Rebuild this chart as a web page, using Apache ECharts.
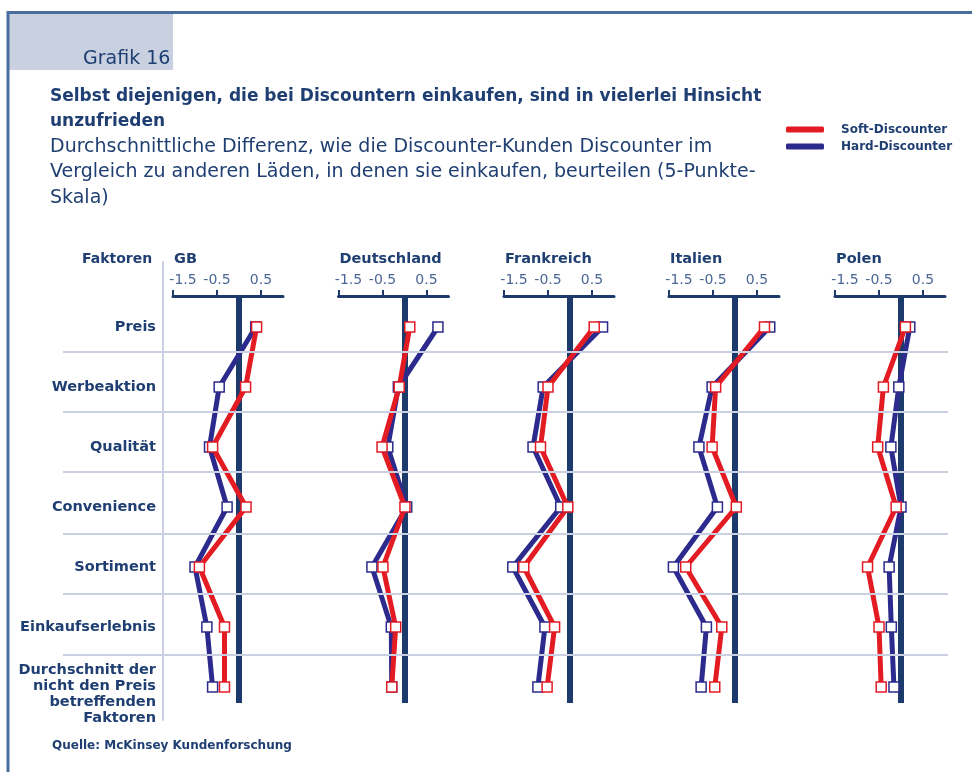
<!DOCTYPE html>
<html>
<head>
<meta charset="utf-8">
<script src="https://cdn.jsdelivr.net/npm/echarts@6/dist/echarts.min.js"></script>
<style>
  html, body { margin: 0; padding: 0; background: #ffffff; }
  #chart { width: 972px; height: 772px; }
</style>
</head>
<body>
<div id="chart"></div>
<script>
// Factors rated (rows, top to bottom)
var factors = ['Preis', 'Werbeaktion', 'Qualität', 'Convenience', 'Sortiment', 'Einkaufserlebnis',
  'Durchschnitt der\nnicht den Preis\nbetreffenden\nFaktoren'];
// Countries (panels, left to right)
var countries = ['GB', 'Deutschland', 'Frankreich', 'Italien', 'Polen'];
var seriesNames = ['Soft-Discounter', 'Hard-Discounter'];

// Average difference on a 5-point scale, one array per country and discounter type
var softGB = [0.4, 0.15, -0.6, 0.16, -0.9, -0.33, -0.33];
var hardGB = [0.38, -0.45, -0.67, -0.27, -1.0, -0.73, -0.6];
var softDE = [0.12, -0.12, -0.51, 0.01, -0.49, -0.2, -0.29];
var hardDE = [0.76, -0.14, -0.38, 0.05, -0.74, -0.3, -0.29];
var softFR = [0.55, -0.5, -0.67, -0.05, -1.05, -0.35, -0.52];
var hardFR = [0.74, -0.61, -0.84, -0.21, -1.3, -0.57, -0.73];
var softIT = [0.67, -0.44, -0.52, 0.03, -1.12, -0.3, -0.46];
var hardIT = [0.79, -0.52, -0.82, -0.4, -1.4, -0.65, -0.77];
var softPL = [0.1, -0.4, -0.53, -0.11, -0.76, -0.5, -0.45];
var hardPL = [0.2, -0.05, -0.23, 0.0, -0.27, -0.22, -0.16];

// Scale ticks
var tickValues = [-1.5, -0.5, 0.5];
var tickLabels = ['-1.5', '-0.5', '0.5'];

var softAll = [softGB, softDE, softFR, softIT, softPL];
var hardAll = [hardGB, hardDE, hardFR, hardIT, hardPL];

var NAVY = '#1d3a6c';
var TEXT = '#1f3f72';
var RED = '#e31b23';
var BLUE = '#2c2a8c';
var SEP = '#c9d0e1';
var FONT = '"DejaVu Sans", Verdana, sans-serif';

// layout of the small multiples
var zeroX = [239, 404.5, 570, 735, 901];
var pxPerUnit = 44;
var xMin = -1.5, xMax = 1.0;
var rowPx = 60, firstRowY = 327;
var panelTop = 296, panelBottom = 703;
var baseTop = 262, baseBottom = 720;

function yAt(px) { return (px - firstRowY) / rowPx; }

var grids = [], xAxes = [], yAxes = [], series = [], titles = [];

// background grid: row separators and factor labels
grids.push({ left: 63, width: 885, top: baseTop, height: baseBottom - baseTop });
xAxes.push({ gridIndex: 0, type: 'value', min: 0, max: 1, show: false });
yAxes.push({
  gridIndex: 0, type: 'value', inverse: true, min: yAt(baseTop), max: yAt(baseBottom),
  position: 'left', offset: -100,
  axisLine: { show: true, lineStyle: { color: SEP, width: 2 } },
  axisTick: { show: false },
  splitLine: { show: false },
  axisLabel: {
    customValues: factors.map(function (f, i) { return i; }),
    margin: 7,
    formatter: function (v) {
      var s = factors[Math.round(v)];
      return Math.round(v) === factors.length - 1 ? '{m|' + s + '}' : s;
    },
    color: TEXT, fontFamily: FONT, fontWeight: 'bold', fontSize: 14.5, align: 'right',
    rich: { m: { color: TEXT, fontFamily: FONT, fontWeight: 'bold', fontSize: 14.5, lineHeight: 16, align: 'right', padding: [14, 0, 0, 0] } }
  }
});
series.push({
  type: 'line', xAxisIndex: 0, yAxisIndex: 0, data: [], silent: true, z: 0,
  markLine: {
    silent: true, symbol: 'none', label: { show: false },
    lineStyle: { color: SEP, width: 2, type: 'solid' },
    data: [0, 1, 2, 3, 4, 5].map(function (i) { return { yAxis: i + 0.42 + Math.max(0, i - 2) * 0.017 }; })
  }
});

countries.forEach(function (c, p) {
  var gi = p + 1;
  var left = zeroX[p] + xMin * pxPerUnit;
  grids.push({ left: left, width: (xMax - xMin) * pxPerUnit, top: panelTop, height: panelBottom - panelTop });
  xAxes.push({
    gridIndex: gi, type: 'value', position: 'top', min: xMin, max: xMax,
    axisLine: { show: true, onZero: false, lineStyle: { color: NAVY, width: 3 } },
    axisTick: { show: true, customValues: tickValues, length: 6, lineStyle: { color: NAVY, width: 2 } },
    axisLabel: {
      customValues: tickValues, margin: 9,
      formatter: function (v) {
        var i = tickValues.indexOf(v);
        var s = tickLabels[i];
        return i === 0 ? '{f|' + s + '}' : s;
      },
      color: '#4b6795', fontFamily: FONT, fontSize: 14,
      rich: { f: { color: '#4b6795', fontFamily: FONT, fontSize: 14, padding: [0, 0, 0, 20] } }
    },
    splitLine: { show: false }, z: 1
  });
  yAxes.push({
    gridIndex: gi, type: 'value', inverse: true, min: yAt(panelTop), max: yAt(panelBottom),
    axisLine: { show: true, onZero: true, lineStyle: { color: NAVY, width: 6, cap: 'butt' } },
    axisTick: { show: false }, axisLabel: { show: false }, splitLine: { show: false }, z: 1
  });
  titles.push({
    text: c, left: left + 1, top: 252,
    textStyle: { color: TEXT, fontFamily: FONT, fontWeight: 'bold', fontSize: 14.5 }, padding: 0
  });
  [[hardAll[p], seriesNames[1], BLUE], [softAll[p], seriesNames[0], RED]].forEach(function (d) {
    series.push({
      type: 'line', name: d[1], xAxisIndex: gi, yAxisIndex: gi, z: 2,
      data: d[0].map(function (v, i) { return [v, i]; }),
      color: d[2],
      symbol: 'rect', symbolSize: 10, showSymbol: true,
      lineStyle: { color: d[2], width: 5 },
      itemStyle: { color: '#ffffff', borderColor: d[2], borderWidth: 1.5 },
      emphasis: { disabled: true }, animation: false
    });
  });
});

// heading block
titles.push({
  text: 'Grafik 16', left: 83, top: 50, padding: 0,
  textStyle: { color: TEXT, fontFamily: FONT, fontWeight: 'normal', fontSize: 19 }
});
titles.push({
  text: 'Selbst diejenigen, die bei Discountern einkaufen, sind in vielerlei Hinsicht\nunzufrieden',
  subtext: 'Durchschnittliche Differenz, wie die Discounter-Kunden Discounter im\nVergleich zu anderen Läden, in denen sie einkaufen, beurteilen (5-Punkte-\nSkala)',
  left: 50, top: 84, padding: 0, itemGap: 0,
  textStyle: { color: TEXT, fontFamily: FONT, fontWeight: 'bold', fontSize: 17, lineHeight: 25 },
  subtextStyle: { color: TEXT, fontFamily: FONT, fontWeight: 'normal', fontSize: 19, lineHeight: 25.5 }
});
titles.push({
  text: 'Faktoren', left: 82, top: 252, padding: 0,
  textStyle: { color: TEXT, fontFamily: FONT, fontWeight: 'bold', fontSize: 14 }
});
titles.push({
  text: 'Quelle: McKinsey Kundenforschung', left: 52, top: 740, padding: 0,
  textStyle: { color: TEXT, fontFamily: FONT, fontWeight: 'bold', fontSize: 12 }
});

var chart = echarts.init(document.getElementById('chart'), null, { renderer: 'canvas' });
chart.setOption({
  backgroundColor: '#ffffff',
  animation: false,
  title: titles,
  legend: {
    orient: 'vertical', left: 786, top: 123, padding: 0, itemWidth: 38, itemHeight: 6, itemGap: 4,
    icon: 'roundRect', selectedMode: false,
    data: [
      { name: seriesNames[0], itemStyle: { color: RED, borderWidth: 0 } },
      { name: seriesNames[1], itemStyle: { color: BLUE, borderWidth: 0 } }
    ],
    textStyle: { color: TEXT, fontFamily: FONT, fontWeight: 'bold', fontSize: 12, lineHeight: 13, padding: [0, 0, 0, 12] }
  },
  graphic: [
    { type: 'rect', shape: { x: 8, y: 13, width: 165, height: 57 }, style: { fill: '#c9d1e1' }, z: -10 },
    { type: 'line', shape: { x1: 8, y1: 12.5, x2: 972, y2: 12.5 }, style: { stroke: '#496d9d', lineWidth: 3 } },
    { type: 'line', shape: { x1: 8, y1: 11, x2: 8, y2: 772 }, style: { stroke: '#496d9d', lineWidth: 3 } }
  ],
  grid: grids,
  xAxis: xAxes,
  yAxis: yAxes,
  series: series
});
</script>
</body>
</html>
